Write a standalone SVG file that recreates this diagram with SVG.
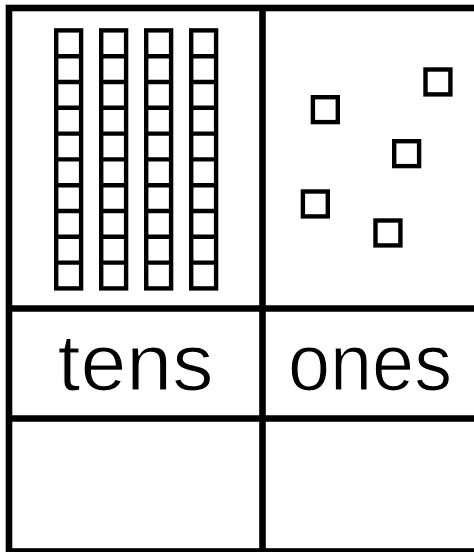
<svg xmlns="http://www.w3.org/2000/svg" xmlns:xlink="http://www.w3.org/1999/xlink" width="474" height="552" viewBox="0 0 474 552">
  <style>
    .grid { fill: none; stroke: #000; stroke-width: 6.6; }
    .block { fill: none; stroke: #000; stroke-width: 4.4; }
    .label { font-family: "Liberation Sans", Arial, sans-serif; font-size: 80px; fill: #000; stroke: #fff; stroke-width: 1.2px; text-anchor: middle; }
  </style>
  <defs>
    <g id="rod">
      <rect class="block" x="0" y="0" width="24.9" height="258"/>
      <path class="block" d="M0 25.8H24.9M0 51.6H24.9M0 77.4H24.9M0 103.2H24.9M0 129H24.9M0 154.8H24.9M0 180.6H24.9M0 206.4H24.9M0 232.2H24.9"/>
    </g>
    <rect id="unit" class="block" x="0" y="0" width="24.9" height="24.9"/>
  </defs>
  <rect width="474" height="552" fill="#fff"/>
  <g id="chart-grid">
    <rect class="grid" x="9" y="8" width="470" height="543.5"/>
    <line class="grid" x1="262.5" y1="8" x2="262.5" y2="551.5"/>
    <line class="grid" x1="9" y1="308.5" x2="479" y2="308.5"/>
    <line class="grid" x1="9" y1="418.5" x2="479" y2="418.5"/>
  </g>
  <g id="tens-blocks">
    <use xlink:href="#rod" x="56.2" y="30.4"/>
    <use xlink:href="#rod" x="101.2" y="30.4"/>
    <use xlink:href="#rod" x="146.2" y="30.4"/>
    <use xlink:href="#rod" x="191.2" y="30.4"/>
  </g>
  <g id="ones-blocks">
    <use xlink:href="#unit" x="425.5" y="69.5"/>
    <use xlink:href="#unit" x="312.9" y="97.2"/>
    <use xlink:href="#unit" x="394.2" y="141.2"/>
    <use xlink:href="#unit" x="302.9" y="191.5"/>
    <use xlink:href="#unit" x="375.5" y="220.5"/>
  </g>
  <g id="label-tens">
    <text class="label" x="135.5" y="390" textLength="156" lengthAdjust="spacingAndGlyphs">tens</text>
  </g>
  <g id="label-ones">
    <text class="label" x="370" y="390" textLength="164" lengthAdjust="spacingAndGlyphs">ones</text>
  </g>
</svg>
